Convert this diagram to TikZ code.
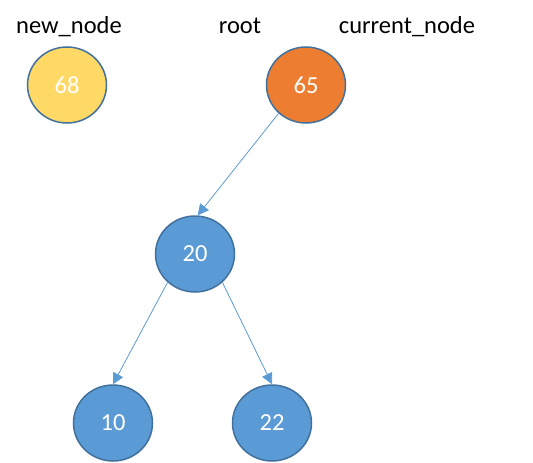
\documentclass[tikz,border=0pt]{standalone}
\usepackage{fontspec}
\setmainfont{Carlito}
\usetikzlibrary{shapes.geometric,arrows.meta}
\definecolor{yellow9}{HTML}{FFD966}
\definecolor{orange9}{HTML}{ED7D31}
\definecolor{blue9}{HTML}{5B9BD5}
\definecolor{rim9}{HTML}{41719C}

\begin{document}
\begin{tikzpicture}[x=1pt,y=-1pt,
  treenode/.style={ellipse,draw=rim9,line width=1.5pt,minimum width=79pt,minimum height=76pt,
    inner sep=0pt,text=white,font=\fontsize{24.5}{29}\selectfont},
  tag/.style={anchor=base,font=\fontsize{24.5}{29}\selectfont},
  link/.style={blue9,line width=0.8pt,-{Triangle[length=11pt,width=11pt]}}]
\useasboundingbox (0,0) rectangle (533,463);
\node [tag] (lnew) at (69,33) {new\_node};
\node [tag] (lroot) at (240,33) {root};
\node [tag] (lcur) at (407,33) {current\_node};
\node [treenode,fill=yellow9] (n68) at (67,85) {68};
\node [treenode,fill=orange9] (n65) at (306,85) {65};
\node [treenode,fill=blue9] (n20) at (195,254) {20};
\node [treenode,fill=blue9] (n10) at (113,423) {10};
\node [treenode,fill=blue9] (n22) at (272,423) {22};
\draw [link] (n65.226) -- (n20.86);
\draw [link] (n20.226) -- (n10.north);
\draw [link] (n20.314) -- (n22.north);
\end{tikzpicture}
\end{document}
